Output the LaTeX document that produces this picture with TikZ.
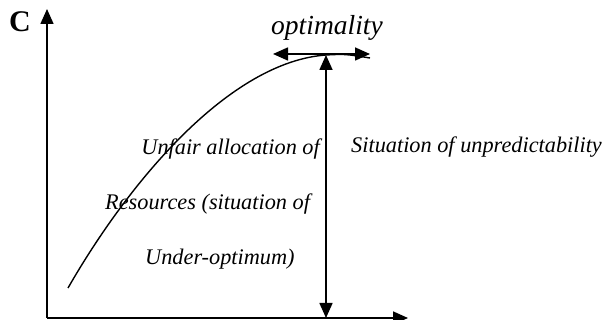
\documentclass[tikz,border=0pt]{standalone}
\usepackage{fontspec}
\setmainfont{Liberation Serif}
\usetikzlibrary{arrows.meta}

\begin{document}
\begin{tikzpicture}[x=1pt,y=1pt,>={Triangle[length=15pt,width=13pt]},
  axis/.style={->,line width=1.6pt},
  lbl/.style={font=\fontsize{22.3}{25}\selectfont\itshape,inner sep=0pt}]
\useasboundingbox (0,0) rectangle (605,320);
% axes
\coordinate (O) at (47,2);
\coordinate (ytip) at (47,311);
\coordinate (xtip) at (408,2);
\draw[axis] (O) -- (ytip);
\draw[axis] (O) -- (xtip);
\node[font=\fontsize{30}{32}\selectfont\bfseries,anchor=base,inner sep=0pt] (C) at (20,288) {C};
% curve
\coordinate (start) at (68,32);
\coordinate (peak) at (326,265);
\coordinate (tail) at (370,262);
\draw[line width=1.4pt] (start) .. controls (130,140) and (230,258) .. (peak)
  .. controls (345,266) .. (tail);
% optimality
\coordinate (base) at (326,2);
\coordinate (left) at (273,266);
\coordinate (right) at (370,266);
\draw[<->,line width=1.6pt] (base) -- (peak);
\draw[<->,line width=1.6pt] (left) -- (right);
\node[font=\fontsize{27.5}{30}\selectfont\itshape,anchor=base,inner sep=0pt] (opt) at (327,285) {optimality};
% labels
\node[lbl,anchor=base east] (unfair) at (320,165) {Unfair allocation of};
\node[lbl,anchor=base west] (res) at (105,110) {Resources (situation of};
\node[lbl,anchor=base west] (under) at (145,55) {Under-optimum)};
\node[lbl,anchor=base west] (unpred) at (351,167) {Situation of unpredictability};
\end{tikzpicture}
\end{document}
